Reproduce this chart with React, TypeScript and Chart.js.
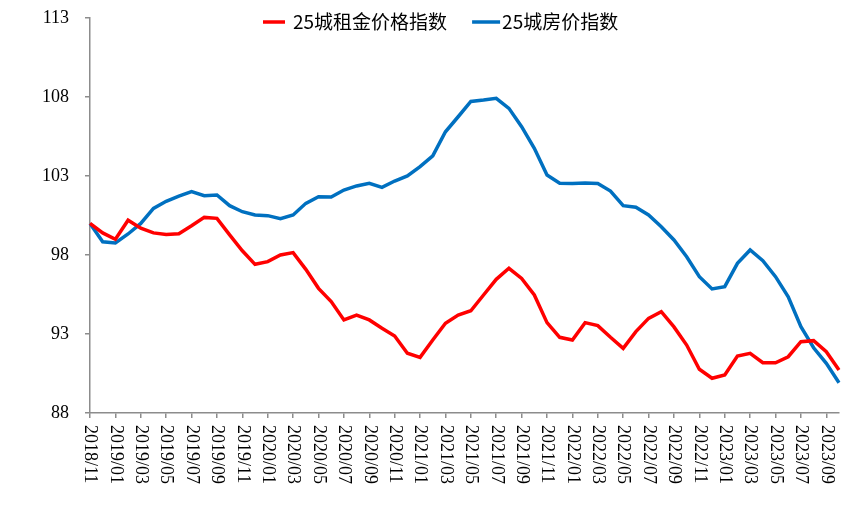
import React, { useEffect, useRef } from "react";
import { Chart, registerables } from "chart.js";

Chart.register(...registerables);

const months: string[] = [
  "2018/11", "2018/12",
  "2019/01", "2019/02", "2019/03", "2019/04", "2019/05", "2019/06", "2019/07", "2019/08", "2019/09", "2019/10", "2019/11", "2019/12",
  "2020/01", "2020/02", "2020/03", "2020/04", "2020/05", "2020/06", "2020/07", "2020/08", "2020/09", "2020/10", "2020/11", "2020/12",
  "2021/01", "2021/02", "2021/03", "2021/04", "2021/05", "2021/06", "2021/07", "2021/08", "2021/09", "2021/10", "2021/11", "2021/12",
  "2022/01", "2022/02", "2022/03", "2022/04", "2022/05", "2022/06", "2022/07", "2022/08", "2022/09", "2022/10", "2022/11", "2022/12",
  "2023/01", "2023/02", "2023/03", "2023/04", "2023/05", "2023/06", "2023/07", "2023/08", "2023/09", "2023/10",
];

const rentIndex: number[] = [
  100.0, 99.4, 99.0, 100.2, 99.7, 99.4, 99.3, 99.35, 99.85, 100.38, 100.32, 99.27, 98.27, 97.41, 97.58,
  98.0, 98.15, 97.09, 95.89, 95.05, 93.89, 94.2, 93.89, 93.36, 92.87, 91.78, 91.52, 92.62, 93.68, 94.2,
  94.47, 95.47, 96.46, 97.16, 96.52, 95.47, 93.72, 92.79, 92.62, 93.72, 93.53, 92.79, 92.09, 93.15, 93.99,
  94.41, 93.45, 92.3, 90.77, 90.2, 90.41, 91.61, 91.78, 91.18, 91.18, 91.56, 92.51, 92.58, 91.88, 90.72,
];

const houseIndex: number[] = [
  100.0, 98.84, 98.76, 99.33, 100.0, 100.95, 101.4, 101.73, 102.01, 101.75, 101.8, 101.12, 100.74, 100.53, 100.49,
  100.3, 100.53, 101.27, 101.69, 101.67, 102.11, 102.37, 102.54, 102.28, 102.68, 103.0, 103.59, 104.27, 105.8, 106.75,
  107.72, 107.81, 107.92, 107.28, 106.12, 104.75, 103.06, 102.54, 102.52, 102.56, 102.52, 102.05, 101.12, 101.02, 100.53,
  99.79, 98.95, 97.89, 96.63, 95.85, 96.0, 97.47, 98.32, 97.64, 96.63, 95.36, 93.46, 92.13, 91.14, 89.92,
];

const seriesNames: string[] = ["25城租金价格指数", "25城房价指数"];
const seriesColors: string[] = ["#FF0000", "#0070C0"];
const yTicks: number[] = [88, 93, 98, 103, 108, 113];

const xLabelPlugin = {
  id: "xLabelPlugin",
  afterDraw(chart: any) {
    const ctx = chart.ctx;
    const xs = chart.scales.x;
    ctx.save();
    ctx.font = '18px "Liberation Serif", "Times New Roman", serif';
    ctx.fillStyle = "#000";
    ctx.textAlign = "left";
    ctx.textBaseline = "middle";
    months.forEach((m, i) => {
      if (i % 2 !== 0) return;
      const x = xs.getPixelForValue(i);
      ctx.save();
      ctx.translate(x, xs.top + 12);
      ctx.rotate(Math.PI / 2);
      ctx.fillText(m, 0, 0);
      ctx.restore();
    });
    ctx.restore();
  },
};

const legendPlugin = {
  id: "customLegend",
  afterDraw(chart: any) {
    const ctx = chart.ctx;
    ctx.save();
    ctx.font = '19px "Noto Sans CJK SC", sans-serif';
    ctx.textBaseline = "middle";
    ctx.textAlign = "left";
    const y = 22;
    let x = 263;
    const lineLens = [22, 28];
    const gaps = [8, 2];
    seriesNames.forEach((name, i) => {
      ctx.strokeStyle = seriesColors[i];
      ctx.lineWidth = 3.5;
      ctx.beginPath();
      ctx.moveTo(x, y);
      ctx.lineTo(x + lineLens[i], y);
      ctx.stroke();
      x += lineLens[i] + gaps[i];
      ctx.fillStyle = "#000";
      ctx.fillText(name, x, y);
      x += ctx.measureText(name).width + 25;
    });
    ctx.restore();
  },
};

export default function App() {
  const canvasRef = useRef<HTMLCanvasElement | null>(null);

  useEffect(() => {
    document.body.style.margin = "0";
    const canvas = canvasRef.current;
    if (!canvas) return;
    const chart = new Chart(canvas, {
      type: "line",
      data: {
        labels: months,
        datasets: [
          {
            label: seriesNames[0],
            data: rentIndex,
            borderColor: seriesColors[0],
            backgroundColor: seriesColors[0],
            borderWidth: 3.5,
            pointRadius: 0,
            tension: 0,
          },
          {
            label: seriesNames[1],
            data: houseIndex,
            borderColor: seriesColors[1],
            backgroundColor: seriesColors[1],
            borderWidth: 3.5,
            pointRadius: 0,
            tension: 0,
          },
        ],
      },
      options: {
        responsive: false,
        animation: false,
        layout: { padding: { top: 18, right: 27, left: 0, bottom: 0 } },
        plugins: {
          legend: { display: false },
          tooltip: { enabled: false },
        },
        scales: {
          x: {
            type: "category",
            offset: false,
            border: { display: true, color: "#8c8c8c", width: 1.5 },
            grid: {
              display: true,
              drawOnChartArea: false,
              drawTicks: true,
              tickLength: 5,
              tickColor: (c: any) => (c.index % 2 === 0 ? "#8c8c8c" : "rgba(0,0,0,0)"),
              lineWidth: 1.5,
            },
            ticks: { display: false, autoSkip: false, maxRotation: 0 },
            afterFit: (scale: any) => {
              scale.height = 104;
            },
          },
          y: {
            min: 88,
            max: 113,
            border: { display: true, color: "#8c8c8c", width: 1.5 },
            grid: {
              display: true,
              drawOnChartArea: false,
              drawTicks: true,
              tickLength: 5,
              color: "#8c8c8c",
              lineWidth: 1.5,
            },
            afterBuildTicks: (scale: any) => {
              scale.ticks = yTicks.map((v) => ({ value: v }));
            },
            ticks: {
              padding: 16,
              color: "#000",
              font: { family: '"Liberation Serif", "Times New Roman", serif', size: 18 },
            },
            afterFit: (scale: any) => {
              scale.width = 90;
              scale.paddingTop = 0;
              scale.paddingBottom = 0;
            },
          },
        },
      },
      plugins: [xLabelPlugin, legendPlugin],
    });
    return () => chart.destroy();
  }, []);

  return (
    <div style={{ width: 866, height: 517, background: "#fff" }}>
      <canvas ref={canvasRef} width={866} height={517} />
    </div>
  );
}
